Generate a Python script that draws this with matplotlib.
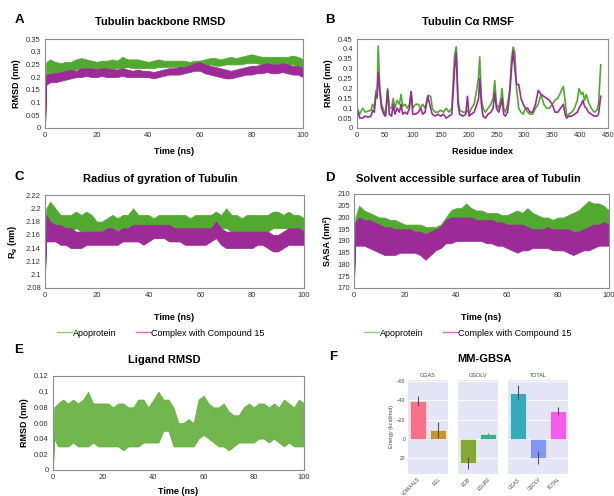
import numpy as np
import matplotlib
matplotlib.use("Agg")
import matplotlib.pyplot as plt
from matplotlib.lines import Line2D
from matplotlib.ticker import FuncFormatter, MultipleLocator
import seaborn as sns

W, H = 614, 496
GREEN = "#52a930"
PURPLE = "#9c2b98"
FRAME = "#8c8c8c"
TICK = "#333333"

plt.rcParams.update({
    "font.family": ["Liberation Sans", "DejaVu Sans"],
    "mathtext.fontset": "custom",
    "mathtext.rm": "Liberation Sans:bold",
    "mathtext.bf": "Liberation Sans:bold",
})

# ---- trajectory time grid (ns) ----
T = np.r_[0, 0.5, np.arange(2, 101, 2)]

# A: backbone RMSD (nm), band lo/hi
rmsd_apo_hi = [0.0, 0.26,
    0.27, 0.26, 0.255, 0.26, 0.26, 0.27, 0.275, 0.27, 0.265, 0.26,
    0.265, 0.265, 0.27, 0.265, 0.28, 0.27, 0.27, 0.27, 0.265, 0.26,
    0.265, 0.27, 0.265, 0.265, 0.265, 0.265, 0.265, 0.26, 0.265, 0.265,
    0.27, 0.275, 0.275, 0.27, 0.275, 0.28, 0.275, 0.28, 0.285, 0.29,
    0.285, 0.28, 0.28, 0.28, 0.28, 0.28, 0.28, 0.285, 0.28, 0.27]
rmsd_apo_lo = [0.0, 0.20,
    0.22, 0.21, 0.215, 0.22, 0.225, 0.23, 0.235, 0.235, 0.23, 0.225,
    0.23, 0.235, 0.23, 0.235, 0.235, 0.24, 0.235, 0.235, 0.235, 0.235,
    0.235, 0.24, 0.24, 0.24, 0.24, 0.24, 0.24, 0.24, 0.235, 0.24,
    0.245, 0.25, 0.245, 0.245, 0.25, 0.25, 0.25, 0.25, 0.255, 0.255,
    0.255, 0.25, 0.25, 0.25, 0.25, 0.255, 0.25, 0.25, 0.245, 0.235]
rmsd_cpx_hi = [0.0, 0.21,
    0.215, 0.215, 0.22, 0.225, 0.23, 0.225, 0.235, 0.235, 0.235, 0.23,
    0.235, 0.235, 0.23, 0.23, 0.235, 0.23, 0.225, 0.23, 0.225, 0.225,
    0.22, 0.225, 0.23, 0.235, 0.235, 0.24, 0.24, 0.245, 0.255, 0.26,
    0.25, 0.245, 0.24, 0.235, 0.23, 0.225, 0.23, 0.235, 0.24, 0.245,
    0.245, 0.25, 0.255, 0.25, 0.25, 0.255, 0.25, 0.245, 0.245, 0.235]
rmsd_cpx_lo = [0.0, 0.17,
    0.18, 0.18, 0.185, 0.19, 0.195, 0.2, 0.2, 0.205, 0.2, 0.2,
    0.205, 0.2, 0.2, 0.2, 0.205, 0.2, 0.2, 0.2, 0.2, 0.2,
    0.195, 0.2, 0.205, 0.21, 0.21, 0.21, 0.215, 0.22, 0.225, 0.225,
    0.215, 0.21, 0.205, 0.2, 0.195, 0.195, 0.2, 0.205, 0.21, 0.21,
    0.215, 0.215, 0.22, 0.215, 0.215, 0.22, 0.215, 0.21, 0.21, 0.2]

# B: C-alpha RMSF (nm) per residue
residues = [
    0, 5, 10, 15, 20, 25, 28, 31, 34, 36,
    38, 41, 44, 48, 51, 55, 58, 62, 65, 68,
    72, 76, 79, 82, 86, 90, 94, 97, 100, 105,
    110, 114, 118, 122, 127, 132, 135, 140, 145, 150,
    155, 160, 165, 170, 175, 178, 181, 184, 190, 195,
    198, 201, 205, 210, 215, 218, 220, 223, 226, 230,
    235, 240, 244, 247, 250, 254, 258, 260, 263, 266,
    270, 274, 277, 280, 283, 286, 290, 294, 298, 302,
    306, 310, 315, 320, 325, 330, 335, 340, 345, 350,
    355, 360, 365, 370, 373, 376, 380, 385, 390, 395,
    398, 402, 405, 408, 411, 415, 420, 425, 430, 433,
    437]
rmsf_apo = [
    0.10, 0.07, 0.10, 0.08, 0.085, 0.09, 0.12, 0.10, 0.19, 0.15,
    0.415, 0.20, 0.12, 0.09, 0.06, 0.20, 0.10, 0.10, 0.15, 0.10,
    0.14, 0.12, 0.17, 0.11, 0.12, 0.10, 0.12, 0.18, 0.10, 0.12,
    0.12, 0.10, 0.12, 0.10, 0.165, 0.16, 0.10, 0.08, 0.08, 0.09,
    0.08, 0.10, 0.08, 0.10, 0.37, 0.41, 0.15, 0.09, 0.08, 0.08,
    0.09, 0.07, 0.10, 0.12, 0.20, 0.26, 0.36, 0.15, 0.10, 0.08,
    0.10, 0.12, 0.15, 0.24, 0.12, 0.10, 0.15, 0.20, 0.10, 0.08,
    0.12, 0.20, 0.35, 0.41, 0.38, 0.20, 0.10, 0.08, 0.07, 0.10,
    0.08, 0.07, 0.07, 0.10, 0.12, 0.17, 0.12, 0.10, 0.10, 0.12,
    0.14, 0.15, 0.18, 0.21, 0.14, 0.06, 0.07, 0.08, 0.10, 0.14,
    0.20, 0.17, 0.18, 0.14, 0.17, 0.13, 0.10, 0.08, 0.09, 0.12,
    0.32]
rmsf_cpx = [
    0.10, 0.05, 0.05, 0.06, 0.055, 0.06, 0.09, 0.08, 0.17, 0.16,
    0.28, 0.18, 0.10, 0.07, 0.06, 0.19, 0.07, 0.06, 0.12, 0.07,
    0.10, 0.08, 0.12, 0.07, 0.08, 0.07, 0.10, 0.185, 0.07, 0.07,
    0.08, 0.10, 0.07, 0.08, 0.16, 0.10, 0.07, 0.06, 0.07, 0.06,
    0.07, 0.05, 0.06, 0.07, 0.30, 0.38, 0.12, 0.07, 0.06, 0.07,
    0.16, 0.06, 0.07, 0.08, 0.12, 0.15, 0.25, 0.12, 0.06, 0.05,
    0.07, 0.08, 0.10, 0.18, 0.10, 0.08, 0.12, 0.15, 0.07, 0.06,
    0.08, 0.18, 0.30, 0.39, 0.30, 0.22, 0.22, 0.15, 0.12, 0.10,
    0.10, 0.08, 0.08, 0.12, 0.19, 0.17, 0.16, 0.15, 0.14, 0.12,
    0.08, 0.08, 0.10, 0.12, 0.07, 0.05, 0.06, 0.06, 0.07, 0.08,
    0.10, 0.12, 0.14, 0.11, 0.10, 0.08, 0.07, 0.06, 0.06, 0.07,
    0.16]

# C: radius of gyration (nm)
rg_apo_hi = [2.10, 2.20,
    2.21, 2.20, 2.19, 2.19, 2.19, 2.195, 2.19, 2.195, 2.19, 2.18,
    2.18, 2.185, 2.19, 2.185, 2.19, 2.19, 2.20, 2.19, 2.19, 2.19,
    2.185, 2.19, 2.19, 2.19, 2.19, 2.19, 2.19, 2.185, 2.19, 2.19,
    2.19, 2.19, 2.195, 2.19, 2.20, 2.19, 2.19, 2.185, 2.19, 2.19,
    2.19, 2.19, 2.19, 2.195, 2.195, 2.19, 2.195, 2.19, 2.19, 2.185]
rg_apo_lo = [2.10, 2.17,
    2.175, 2.17, 2.165, 2.165, 2.165, 2.17, 2.165, 2.165, 2.165, 2.16,
    2.16, 2.16, 2.165, 2.165, 2.165, 2.17, 2.17, 2.17, 2.17, 2.17,
    2.17, 2.17, 2.17, 2.17, 2.17, 2.165, 2.165, 2.165, 2.165, 2.165,
    2.165, 2.17, 2.17, 2.17, 2.17, 2.165, 2.165, 2.165, 2.165, 2.165,
    2.165, 2.165, 2.165, 2.17, 2.17, 2.17, 2.17, 2.17, 2.17, 2.165]
rg_cpx_hi = [2.10, 2.19,
    2.18, 2.175, 2.175, 2.17, 2.17, 2.165, 2.165, 2.165, 2.165, 2.165,
    2.165, 2.17, 2.17, 2.165, 2.17, 2.17, 2.175, 2.175, 2.175, 2.175,
    2.175, 2.175, 2.175, 2.175, 2.17, 2.17, 2.17, 2.17, 2.17, 2.17,
    2.17, 2.17, 2.18, 2.17, 2.165, 2.165, 2.165, 2.165, 2.165, 2.165,
    2.165, 2.165, 2.165, 2.16, 2.16, 2.165, 2.17, 2.17, 2.17, 2.165]
rg_cpx_lo = [2.10, 2.15,
    2.15, 2.15, 2.145, 2.145, 2.14, 2.14, 2.14, 2.145, 2.145, 2.145,
    2.145, 2.145, 2.145, 2.145, 2.15, 2.15, 2.15, 2.15, 2.145, 2.15,
    2.155, 2.155, 2.155, 2.15, 2.15, 2.15, 2.145, 2.145, 2.145, 2.145,
    2.145, 2.15, 2.155, 2.145, 2.14, 2.14, 2.14, 2.14, 2.14, 2.14,
    2.145, 2.145, 2.14, 2.135, 2.135, 2.14, 2.145, 2.145, 2.145, 2.145]

# D: SASA (nm^2)
sasa_apo_hi = [173, 200,
    205, 203, 202, 201, 200, 200, 199, 199, 198, 197,
    197, 197, 197, 196, 196, 196, 197, 200, 203, 204,
    204, 206, 204, 203, 203, 202, 202, 202, 201, 201,
    202, 203, 202, 204, 202, 201, 200, 200, 199, 200,
    200, 201, 202, 203, 205, 207, 206, 206, 205, 203]
sasa_apo_lo = [173, 190,
    190, 189, 188, 187, 187, 186, 186, 186, 186, 186,
    186, 187, 187, 186, 187, 187, 188, 190, 191, 191,
    191, 192, 192, 192, 192, 191, 191, 190, 190, 189,
    189, 189, 189, 189, 189, 189, 189, 190, 190, 190,
    190, 191, 191, 191, 192, 193, 193, 193, 192, 190]
sasa_cpx_hi = [173, 198,
    200, 199, 199, 198, 197, 196, 196, 195, 195, 195,
    195, 194, 194, 193, 194, 195, 196, 199, 200, 200,
    200, 200, 200, 199, 199, 199, 199, 198, 198, 197,
    197, 197, 197, 196, 195, 195, 195, 196, 195, 195,
    195, 195, 194, 194, 195, 196, 197, 197, 198, 197]
sasa_cpx_lo = [173, 188,
    188, 188, 187, 186, 185, 184, 184, 184, 185, 185,
    185, 185, 184, 182, 184, 186, 187, 189, 189, 190,
    190, 190, 190, 190, 190, 189, 189, 188, 188, 187,
    186, 185, 186, 186, 187, 187, 187, 187, 186, 186,
    186, 185, 184, 185, 186, 186, 187, 188, 188, 188]

# E: ligand RMSD (nm)
lig_hi = [0.0, 0.08,
    0.085, 0.09, 0.085, 0.09, 0.085, 0.09, 0.10, 0.085, 0.085, 0.085,
    0.085, 0.08, 0.085, 0.085, 0.08, 0.08, 0.09, 0.09, 0.08, 0.09,
    0.10, 0.09, 0.09, 0.08, 0.06, 0.06, 0.065, 0.06, 0.09, 0.095,
    0.085, 0.08, 0.08, 0.085, 0.075, 0.07, 0.07, 0.08, 0.085, 0.08,
    0.085, 0.085, 0.08, 0.085, 0.08, 0.09, 0.085, 0.08, 0.09, 0.085]
lig_lo = [0.0, 0.04,
    0.03, 0.03, 0.03, 0.035, 0.03, 0.03, 0.03, 0.035, 0.03, 0.03,
    0.03, 0.03, 0.03, 0.025, 0.03, 0.03, 0.03, 0.035, 0.035, 0.035,
    0.035, 0.05, 0.05, 0.03, 0.03, 0.03, 0.03, 0.03, 0.04, 0.045,
    0.04, 0.035, 0.03, 0.03, 0.025, 0.03, 0.035, 0.035, 0.035, 0.035,
    0.04, 0.04, 0.035, 0.04, 0.035, 0.03, 0.035, 0.03, 0.03, 0.03]

# F: MM-GBSA energies (kcal/mol)
facets = ["GGAS", "GSOLV", "TOTAL"]
terms = [["VDWAALS", "EEL"], ["EGB", "ESURF"], ["GGAS", "GSOLV", "TOTAL"]]
energy = [[-39.4, -8.9], [25.0, -5.5], [-48.0, 19.5, -28.5]]
energy_sd = [[5.5, 8.2], [6.5, 1.0], [7.9, 6.9, 4.3]]


def px_axes(fig, x0, y0, x1, y1):
    return fig.add_axes([x0 / W, 1 - y1 / H, (x1 - x0) / W, (y1 - y0) / H])


def fig_text(fig, x, y, s, **kw):
    fig.text(x / W, 1 - y / H, s, ha="center", va="center", **kw)


def style(ax, xlim, ylim, xstep, ystep):
    ax.set_xlim(*xlim)
    ax.set_ylim(*ylim)
    ax.xaxis.set_major_locator(MultipleLocator(xstep))
    ax.yaxis.set_major_locator(MultipleLocator(ystep))
    fmt = FuncFormatter(lambda v, p: f"{round(v, 4):g}")
    ax.xaxis.set_major_formatter(fmt)
    ax.yaxis.set_major_formatter(fmt)
    for s in ax.spines.values():
        s.set_color(FRAME)
        s.set_linewidth(0.8)
    ax.tick_params(length=0, pad=3, labelsize=5.5, labelcolor=TICK)


def band(ax, lo, hi, color, alpha=1.0):
    ax.fill_between(T, lo, hi, color=color, lw=0.5, edgecolor=color, alpha=alpha)


fig = plt.figure(figsize=(W / 100, H / 100), dpi=100)
fig.patch.set_facecolor("white")

TITLE = dict(fontsize=8, fontweight="bold")
LETTER = dict(fontsize=9.5, fontweight="bold")
LAB = dict(fontsize=6.5, fontweight="bold")

# ── A ──
axA = px_axes(fig, 45, 39, 303, 128)
band(axA, rmsd_apo_lo, rmsd_apo_hi, GREEN)
band(axA, rmsd_cpx_lo, rmsd_cpx_hi, PURPLE)
style(axA, (0, 100), (0, 0.35), 20, 0.05)
axA.set_ylabel("RMSD (nm)", **LAB)
fig_text(fig, 174, 152, "Time (ns)", **LAB)
fig_text(fig, 160, 22, "Tubulin backbone RMSD", **TITLE)
fig_text(fig, 19, 20, "A", **LETTER)

# ── B ──
axB = px_axes(fig, 357, 39, 608, 128)
axB.plot(residues, rmsf_apo, color=GREEN, lw=1.2)
axB.plot(residues, rmsf_cpx, color=PURPLE, lw=1.2)
style(axB, (0, 450), (0, 0.45), 50, 0.05)
axB.set_ylabel("RMSF (nm)", **LAB)
fig_text(fig, 482, 152, "Residue index", **LAB)
fig_text(fig, 468, 22, "Tubulin C\u03b1 RMSF", **TITLE)
fig_text(fig, 330, 20, "B", **LETTER)

# ── C ──
axC = px_axes(fig, 45, 195, 304, 288)
band(axC, rg_apo_lo, rg_apo_hi, GREEN)
band(axC, rg_cpx_lo, rg_cpx_hi, PURPLE)
style(axC, (0, 100), (2.08, 2.22), 20, 0.02)
axC.set_ylabel("R$_\\mathregular{g}$ (nm)", **LAB)
fig_text(fig, 174, 318, "Time (ns)", **LAB)
fig_text(fig, 160, 179, "Radius of gyration of Tubulin", **TITLE)
fig_text(fig, 19, 177, "C", **LETTER)

# ── D ──
axD = px_axes(fig, 354, 194, 609, 288)
band(axD, sasa_apo_lo, sasa_apo_hi, GREEN)
band(axD, sasa_cpx_lo, sasa_cpx_hi, PURPLE)
style(axD, (0, 100), (170, 210), 20, 5)
axD.set_ylabel("SASA (nm\u00b2)", **LAB)
fig_text(fig, 481, 318, "Time (ns)", **LAB)
fig_text(fig, 468, 179, "Solvent accessible surface area of Tubulin", **TITLE)
fig_text(fig, 330, 178, "D", **LETTER)

# legends under C and D
handles = [Line2D([], [], color="#8ccf6c", lw=1.0),
           Line2D([], [], color="#e06ad0", lw=1.0)]
names = ["Apoprotein", "Complex with Compound 15"]
for cx in (161, 468):
    fig.legend(handles, names, loc="center", bbox_to_anchor=(cx / W, 1 - 333 / H),
               ncol=2, frameon=False, fontsize=6.5, handlelength=1.6,
               handletextpad=0.1, columnspacing=2.2, borderpad=0)

# ── E ──
axE = px_axes(fig, 53, 376, 304, 470)
band(axE, lig_lo, lig_hi, "#58ab2e", alpha=0.85)
style(axE, (0, 100), (0, 0.12), 20, 0.02)
axE.set_ylabel("RMSD (nm)", **LAB)
fig_text(fig, 178, 491, "Time (ns)", **LAB)
fig_text(fig, 164, 360, "Ligand RMSD", **TITLE)
fig_text(fig, 19, 350, "E", **LETTER)

# ── F ──
fig_text(fig, 484, 359, "MM-GBSA", **TITLE)
fig_text(fig, 333, 357, "F", **LETTER)
pal = sns.color_palette("husl", 7)
spans = [(408, 448), (458, 498), (508, 568)]
ci = 0
for i, (x0, x1) in enumerate(spans):
    ax = px_axes(fig, x0, 380, x1, 474)
    ax.set_facecolor("#e5e5f5")
    n = len(terms[i])
    xs = np.arange(n)
    ax.bar(xs, energy[i], width=0.8, color=pal[ci:ci + n], edgecolor="white",
           lw=0.4, yerr=energy_sd[i],
           error_kw=dict(ecolor="#555555", elinewidth=0.8, capsize=0))
    ci += n
    ax.set_xlim(-0.5, n - 0.5)
    ax.set_ylim(36.5, -61)
    ax.set_yticks([-60, -40, -20, 0, 20])
    ax.yaxis.grid(True, color="white", lw=0.6)
    ax.set_axisbelow(True)
    for s in ax.spines.values():
        s.set_visible(False)
    ax.set_xticks(xs)
    ax.set_xticklabels(terms[i], rotation=45, ha="right", rotation_mode="anchor")
    ax.tick_params(length=0, pad=2, labelsize=3.5, labelcolor="#444444")
    ax.set_title(facets[i], fontsize=4, color="#444444", pad=2)
    if i == 0:
        ax.set_ylabel("Energy (kcal/mol)", fontsize=4, color="#444444", labelpad=2)
    else:
        ax.set_yticklabels([])

fig.savefig("out.png", dpi=100)
